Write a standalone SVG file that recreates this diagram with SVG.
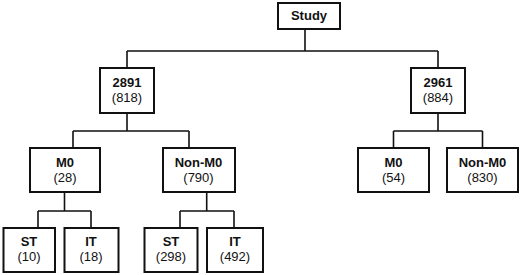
<svg xmlns="http://www.w3.org/2000/svg" width="520" height="275" viewBox="0 0 520 275">
<style>
.box{fill:#fff;stroke:#111;stroke-width:2}
.ln{fill:none;stroke:#111;stroke-width:1.6}
text{font-family:"Liberation Sans",Arial,sans-serif;font-size:13px;fill:#111;text-anchor:middle}
.b{font-weight:bold}
</style>
<rect width="520" height="275" fill="#fff"/>
<g id="connectors">
<path class="ln" d="M305,29V51M127,51H438M127,51V68M438,51V68"/>
<path class="ln" d="M127,113V131M73,131H189M73,131V148M189,131V148"/>
<path class="ln" d="M438,113V131M393.5,131H482.5M393.5,131V148M482.5,131V148"/>
<path class="ln" d="M64.5,192V211M38,211H91M38,211V228M91,211V228"/>
<path class="ln" d="M206.7,192V211M180,211H234M180,211V228M234,211V228"/>
</g>
<g id="study"><rect class="box" x="278" y="3" width="62" height="26"/><text class="b" x="309" y="20">Study</text></g>
<g id="n2891"><rect class="box" x="100" y="68" width="54" height="45"/><text class="b" x="127" y="86.5">2891</text><text x="127" y="101.5">(818)</text></g>
<g id="n2961"><rect class="box" x="411" y="68" width="54" height="45"/><text class="b" x="438" y="86.5">2961</text><text x="438" y="101.5">(884)</text></g>
<g id="m0a"><rect class="box" x="30" y="148" width="70" height="44"/><text class="b" x="65" y="166.5">M0</text><text x="65" y="181.5">(28)</text></g>
<g id="nm0a"><rect class="box" x="163" y="148" width="72" height="44"/><text class="b" x="198.5" y="166.5">Non-M0</text><text x="198.5" y="181.5">(790)</text></g>
<g id="m0b"><rect class="box" x="358" y="148" width="71" height="44"/><text class="b" x="393.5" y="166.5">M0</text><text x="393.5" y="181.5">(54)</text></g>
<g id="nm0b"><rect class="box" x="447" y="148" width="71" height="44"/><text class="b" x="482.5" y="166.5">Non-M0</text><text x="482.5" y="181.5">(830)</text></g>
<g id="st1"><rect class="box" x="3.5" y="228" width="51.5" height="44"/><text class="b" x="29" y="246">ST</text><text x="29" y="261">(10)</text></g>
<g id="it1"><rect class="box" x="64.5" y="228" width="54" height="44"/><text class="b" x="91" y="246">IT</text><text x="91" y="261">(18)</text></g>
<g id="st2"><rect class="box" x="144.5" y="228" width="53" height="44"/><text class="b" x="171" y="246">ST</text><text x="171" y="261">(298)</text></g>
<g id="it2"><rect class="box" x="207" y="228" width="56" height="44"/><text class="b" x="235" y="246">IT</text><text x="235" y="261">(492)</text></g>
</svg>
